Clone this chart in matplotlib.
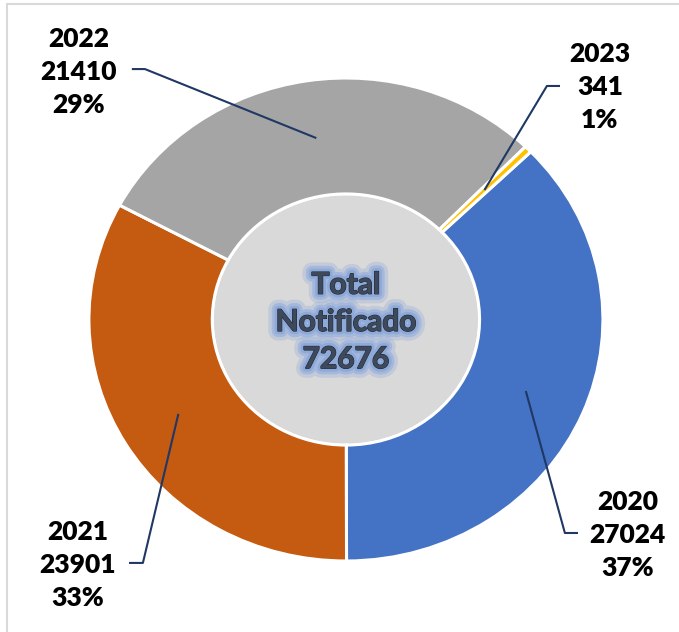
import numpy as np
import matplotlib
matplotlib.use('Agg')
import matplotlib.pyplot as plt
import matplotlib.patheffects as pe
from matplotlib.patches import Circle, Rectangle

# datos
years = ['2020', '2021', '2022', '2023']
casos = [27024, 23901, 21410, 341]
porcentajes = [37, 33, 29, 1]
colores = ['#4472C4', '#C55A11', '#A5A5A5', '#FFC000']
total = sum(casos)

# posiciones de las etiquetas (coords de datos) y del codo de la linea guia
pos_texto = [(1.097, -0.892), (-1.043, -1.016), (-1.039, 1.025), (0.988, 0.963)]
codo = [((0.903, -0.884), (0.852, -0.884)),
        ((-0.844, -1.008), (-0.790, -1.008)),
        ((-0.833, 1.037), (-0.782, 1.037)),
        ((0.833, 0.967), (0.782, 0.967))]

plt.rcParams['font.family'] = ['Lato', 'DejaVu Sans']

fig = plt.figure(figsize=(6.79, 6.32), dpi=100)
ax = fig.add_axes([0, 0, 1, 1])

hueco = 0.52
wedges, _ = ax.pie(casos, colors=colores, startangle=44, counterclock=False,
                   radius=1, wedgeprops=dict(width=1 - hueco, edgecolor='white', linewidth=2.2))
ax.add_patch(Circle((0, 0), hueco - 0.005, facecolor='#D9D9D9', edgecolor='none', zorder=0))

ax.set_aspect('auto')
ax.set_xlim(-1.346, 1.296)
ax.set_ylim(-1.294, 1.323)
ax.axis('off')

# etiquetas con lineas guia
r_mid = (1 + hueco) / 2
for w, y, v, pct, (tx, ty), (p1, p2) in zip(wedges, years, casos, porcentajes, pos_texto, codo):
    ang = np.deg2rad((w.theta1 + w.theta2) / 2)
    ax_, ay_ = r_mid * np.cos(ang), r_mid * np.sin(ang)
    ax.plot([p1[0], p2[0], ax_], [p1[1], p2[1], ay_], color='#1F3864', lw=1.5,
            solid_capstyle='butt', zorder=5)
    ax.text(tx, ty, f'{y}\n{v}\n{pct}%', ha='center', va='center', fontsize=19,
            fontweight='heavy', color='black', linespacing=1.45)

# texto central con brillo
glow = '#8EAADB'
ax.text(0, -0.01, f'Total\nNotificado\n{total}', ha='center', va='center',
        fontsize=21.5, fontweight='bold', color='#3E4A5C', linespacing=1.4, zorder=6,
        path_effects=[pe.withStroke(linewidth=14, foreground=glow, alpha=0.3),
                      pe.withStroke(linewidth=9, foreground=glow, alpha=0.55),
                      pe.withStroke(linewidth=5, foreground=glow),
                      pe.withStroke(linewidth=1.0, foreground='#1E2530'),
                      pe.Normal()])

# borde del area del grafico
fig.patches.append(Rectangle((7 / 679, -0.5), 2, 1.5 - 4 / 632, transform=fig.transFigure,
                             fill=False, edgecolor='#D9D9D9', lw=1.5))

fig.savefig('out.png', dpi=100, facecolor='white')
